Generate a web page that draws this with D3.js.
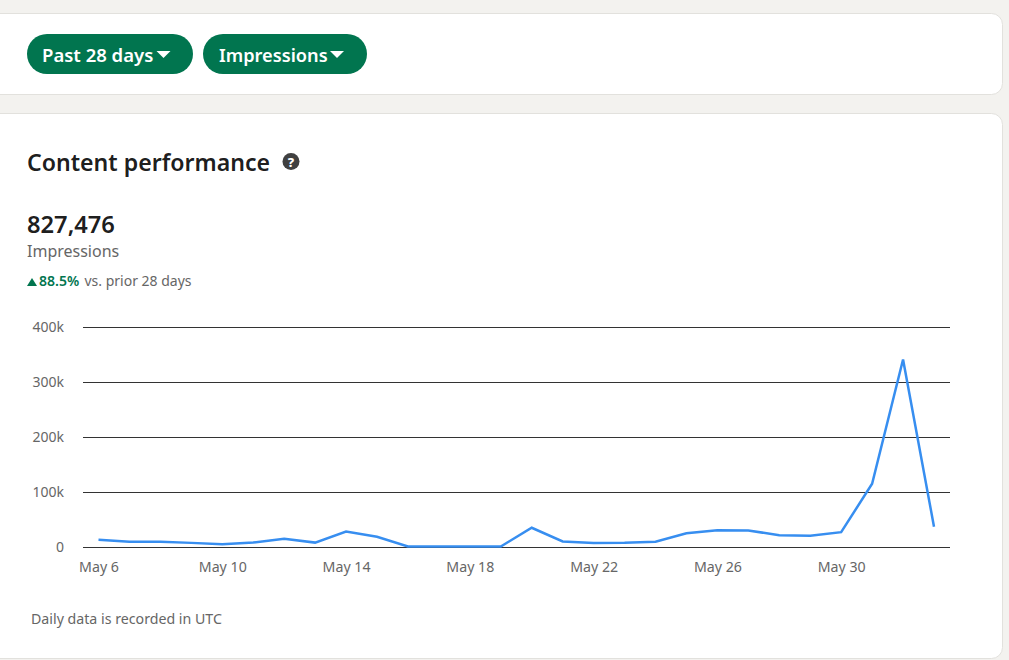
<!DOCTYPE html>
<html>
<head>
<meta charset="utf-8">
<script src="https://cdn.jsdelivr.net/npm/d3@7/dist/d3.min.js"></script>
<style>
  html, body { margin: 0; padding: 0; background: #f3f2ef; overflow: hidden; }
  svg { display: block; font-family: "Noto Sans", "Open Sans", sans-serif; }
</style>
</head>
<body>
<svg id="page" width="1009" height="660"></svg>
<script>
// Daily impressions, May 6 through June 2
const dayLabels = ["May 6","May 7","May 8","May 9","May 10","May 11","May 12","May 13","May 14","May 15",
  "May 16","May 17","May 18","May 19","May 20","May 21","May 22","May 23","May 24","May 25","May 26",
  "May 27","May 28","May 29","May 30","May 31","Jun 1","Jun 2"];
const impressions = [13000,9500,9500,7500,5000,8000,15000,8000,28000,18500,1000,1000,1000,1000,
  35000,10000,7500,7800,9500,25000,30500,30000,21500,20500,27000,115000,341000,37000];
const yTicks = [0,100000,200000,300000,400000];
const xTickLabels = ["May 6","May 10","May 14","May 18","May 22","May 26","May 30"];
const filterLabels = ["Past 28 days","Impressions"];

const svg = d3.select("#page");
const green = "#01754f", ink = "rgba(0,0,0,.9)", muted = "#666";

// Cards
function card(x, y, w, h) {
  svg.append("rect").attr("x", x + .5).attr("y", y + .5).attr("width", w).attr("height", h)
    .attr("rx", 11).attr("fill", "#fff").attr("stroke", "#e2e1dd");
}
card(-20, 13, 1022, 81);
card(-20, 113, 1022, 545);

// Filter pills
const pills = [{x: 27, w: 166, tx: 42, ax: 163.5, fs: 18.5}, {x: 203, w: 164, tx: 219, ax: 337, fs: 18.2}];
pills.forEach((p, i) => {
  svg.append("rect").attr("x", p.x).attr("y", 34).attr("width", p.w).attr("height", 40)
    .attr("rx", 20).attr("fill", green);
  svg.append("text").attr("x", p.tx).attr("y", 61.5).attr("fill", "#fff")
    .attr("font-size", p.fs).attr("font-weight", 600).text(filterLabels[i]);
  svg.append("path").attr("fill", "#fff")
    .attr("d", d3.line()([[p.ax - 7, 51], [p.ax + 7, 51], [p.ax, 58]]) + "Z");
});

// Heading and help icon
svg.append("text").attr("x", 27).attr("y", 171).attr("fill", ink)
  .attr("font-size", 23.1).attr("font-weight", 600).text("Content performance");
svg.append("circle").attr("cx", 291).attr("cy", 161.5).attr("r", 8.5).attr("fill", "#404040");
svg.append("text").attr("x", 291).attr("y", 166.5).attr("text-anchor", "middle").attr("fill", "#fff")
  .attr("font-size", 13).attr("font-weight", 800).text("?");

// Headline figure
svg.append("text").attr("x", 27).attr("y", 233).attr("fill", ink)
  .attr("font-size", 23.7).attr("font-weight", 600).text("827,476");
svg.append("text").attr("x", 27).attr("y", 257).attr("fill", muted)
  .attr("font-size", 16).text("Impressions");
svg.append("path").attr("fill", green).attr("d", d3.line()([[27, 286], [37, 286], [32, 278]]) + "Z");
svg.append("text").attr("x", 39).attr("y", 286).attr("fill", green)
  .attr("font-size", 14).attr("font-weight", 600).text("88.5%");
svg.append("text").attr("x", 84.5).attr("y", 286).attr("fill", muted)
  .attr("font-size", 14).text("vs. prior 28 days");

// Scales
const x = d3.scalePoint().domain(dayLabels).range([98.5, 934]);
const y = d3.scaleLinear().domain([0, 400000]).range([547, 327]);

// Value axis with full-width gridlines
const yAxis = svg.append("g").attr("transform", "translate(83,0)")
  .call(d3.axisLeft(y).tickValues(yTicks).tickSize(-867).tickPadding(19)
    .tickFormat(d => d === 0 ? "0" : d / 1000 + "k"));
yAxis.attr("font-family", null);
yAxis.select(".domain").remove();
yAxis.selectAll("line").attr("stroke", "#333").attr("stroke-width", 1);
yAxis.selectAll("text").attr("fill", muted).attr("font-size", 14);

// Date axis
const xAxis = svg.append("g").attr("transform", "translate(0,547)")
  .call(d3.axisBottom(x).tickValues(xTickLabels).tickSize(0).tickPadding(15));
xAxis.attr("font-family", null);
xAxis.select(".domain").remove();
xAxis.selectAll("text").attr("fill", muted).attr("font-size", 14.2);

// Impressions line
svg.append("path").datum(impressions)
  .attr("fill", "none").attr("stroke", "#378ef0").attr("stroke-width", 2.5)
  .attr("stroke-linejoin", "miter")
  .attr("d", d3.line().x((d, i) => x(dayLabels[i])).y(d => y(d)));

// Footnote
svg.append("text").attr("x", 31).attr("y", 624).attr("fill", muted)
  .attr("font-size", 14.2).text("Daily data is recorded in UTC");
</script>
</body>
</html>
